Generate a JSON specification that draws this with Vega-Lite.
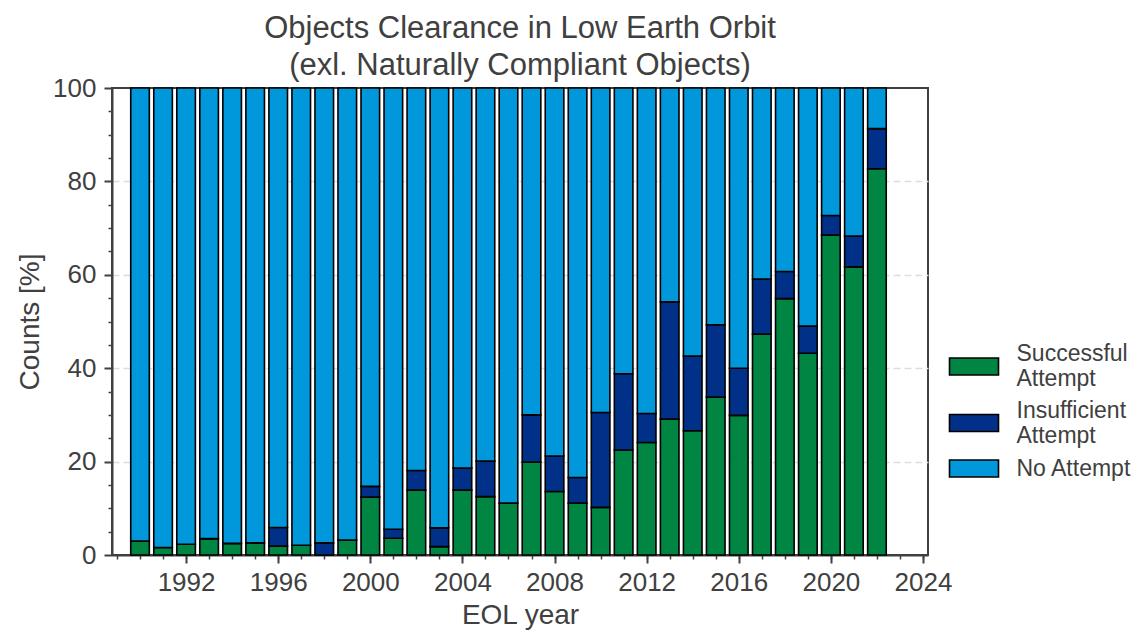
{
  "$schema": "https://vega.github.io/schema/vega-lite/v6.json",
  "width": 816,
  "height": 467,
  "autosize": {"type": "none"},
  "padding": {"left": 112, "top": 88, "right": 214, "bottom": 77},
  "background": "white",
  "config": {
    "font": "Liberation Sans",
    "view": {"stroke": "#404040", "strokeWidth": 2}
  },
  "title": {
    "text": ["Objects Clearance in Low Earth Orbit", "(exl. Naturally Compliant Objects)"],
    "fontSize": 31,
    "fontWeight": "normal",
    "color": "#404040",
    "font": "Liberation Sans",
    "anchor": "middle",
    "frame": "group",
    "lineHeight": 37,
    "offset": -7
  },
  "data": {
    "values": [
      {"year": 1990, "Successful Attempt": 3.0, "Insufficient Attempt": 0, "No Attempt": 97.0},
      {"year": 1991, "Successful Attempt": 1.6, "Insufficient Attempt": 0, "No Attempt": 98.4},
      {"year": 1992, "Successful Attempt": 2.3, "Insufficient Attempt": 0, "No Attempt": 97.7},
      {"year": 1993, "Successful Attempt": 3.5, "Insufficient Attempt": 0, "No Attempt": 96.5},
      {"year": 1994, "Successful Attempt": 2.5, "Insufficient Attempt": 0, "No Attempt": 97.5},
      {"year": 1995, "Successful Attempt": 2.6, "Insufficient Attempt": 0, "No Attempt": 97.4},
      {"year": 1996, "Successful Attempt": 1.9, "Insufficient Attempt": 4.0, "No Attempt": 94.1},
      {"year": 1997, "Successful Attempt": 2.1, "Insufficient Attempt": 0, "No Attempt": 97.9},
      {"year": 1998, "Successful Attempt": 0, "Insufficient Attempt": 2.6, "No Attempt": 97.4},
      {"year": 1999, "Successful Attempt": 3.2, "Insufficient Attempt": 0, "No Attempt": 96.8},
      {"year": 2000, "Successful Attempt": 12.4, "Insufficient Attempt": 2.3, "No Attempt": 85.3},
      {"year": 2001, "Successful Attempt": 3.6, "Insufficient Attempt": 1.9, "No Attempt": 94.5},
      {"year": 2002, "Successful Attempt": 13.9, "Insufficient Attempt": 4.2, "No Attempt": 81.9},
      {"year": 2003, "Successful Attempt": 1.8, "Insufficient Attempt": 4.0, "No Attempt": 94.2},
      {"year": 2004, "Successful Attempt": 13.9, "Insufficient Attempt": 4.7, "No Attempt": 81.4},
      {"year": 2005, "Successful Attempt": 12.5, "Insufficient Attempt": 7.6, "No Attempt": 79.9},
      {"year": 2006, "Successful Attempt": 11.1, "Insufficient Attempt": 0, "No Attempt": 88.9},
      {"year": 2007, "Successful Attempt": 19.9, "Insufficient Attempt": 10.1, "No Attempt": 70.0},
      {"year": 2008, "Successful Attempt": 13.6, "Insufficient Attempt": 7.6, "No Attempt": 78.8},
      {"year": 2009, "Successful Attempt": 11.1, "Insufficient Attempt": 5.5, "No Attempt": 83.4},
      {"year": 2010, "Successful Attempt": 10.2, "Insufficient Attempt": 20.3, "No Attempt": 69.5},
      {"year": 2011, "Successful Attempt": 22.5, "Insufficient Attempt": 16.3, "No Attempt": 61.2},
      {"year": 2012, "Successful Attempt": 24.1, "Insufficient Attempt": 6.2, "No Attempt": 69.7},
      {"year": 2013, "Successful Attempt": 29.1, "Insufficient Attempt": 25.1, "No Attempt": 45.8},
      {"year": 2014, "Successful Attempt": 26.6, "Insufficient Attempt": 16.0, "No Attempt": 57.4},
      {"year": 2015, "Successful Attempt": 33.8, "Insufficient Attempt": 15.5, "No Attempt": 50.7},
      {"year": 2016, "Successful Attempt": 29.9, "Insufficient Attempt": 10.1, "No Attempt": 60.0},
      {"year": 2017, "Successful Attempt": 47.3, "Insufficient Attempt": 11.8, "No Attempt": 40.9},
      {"year": 2018, "Successful Attempt": 54.9, "Insufficient Attempt": 5.8, "No Attempt": 39.3},
      {"year": 2019, "Successful Attempt": 43.2, "Insufficient Attempt": 5.8, "No Attempt": 51.0},
      {"year": 2020, "Successful Attempt": 68.5, "Insufficient Attempt": 4.2, "No Attempt": 27.3},
      {"year": 2021, "Successful Attempt": 61.7, "Insufficient Attempt": 6.6, "No Attempt": 31.7},
      {"year": 2022, "Successful Attempt": 82.7, "Insufficient Attempt": 8.6, "No Attempt": 8.7}
    ]
  },
  "transform": [
    {"fold": ["Successful Attempt", "Insufficient Attempt", "No Attempt"], "as": ["status", "value"]},
    {"calculate": "indexof(['Successful Attempt','Insufficient Attempt','No Attempt'], datum.status)", "as": "k"}
  ],
  "layer": [
    {
      "mark": {"type": "bar", "width": 18.6, "stroke": "black", "strokeWidth": 1.6},
      "encoding": {
        "x": {
          "field": "year", "type": "quantitative",
          "scale": {"domain": [1989, 2024], "nice": false, "zero": false},
          "axis": {
            "orient": "bottom",
            "values": [1992, 1996, 2000, 2004, 2008, 2012, 2016, 2020, 2024],
            "format": "d",
            "title": "EOL year",
            "grid": false,
            "domainColor": "#404040", "domainWidth": 2,
            "tickColor": "#404040", "tickWidth": 2, "tickSize": 8,
            "labelFontSize": 26, "labelColor": "#404040", "labelPadding": 6, "labelFlush": false,
            "titleFontSize": 28, "titleFontWeight": "normal", "titleColor": "#404040", "titlePadding": 6
          }
        },
        "y": {
          "field": "value", "type": "quantitative", "stack": "zero",
          "scale": {"domain": [0, 100], "nice": false},
          "axis": {
            "orient": "left",
            "values": [0, 20, 40, 60, 80, 100],
            "title": "Counts [%]",
            "grid": true, "gridColor": "#dddddd", "gridDash": [7, 4], "gridWidth": 1.5,
            "gridOpacity": {"condition": {"test": "datum.value === 100 || datum.value === 0", "value": 0}, "value": 1},
            "domainColor": "#404040", "domainWidth": 2,
            "tickColor": "#404040", "tickWidth": 2, "tickSize": 8,
            "labelFontSize": 26, "labelColor": "#404040", "labelPadding": 8,
            "titleFontSize": 28, "titleFontWeight": "normal", "titleColor": "#404040", "titlePadding": 8
          }
        },
        "color": {
          "field": "status", "type": "nominal",
          "sort": ["Successful Attempt", "Insufficient Attempt", "No Attempt"],
          "scale": {"domain": ["Successful Attempt", "Insufficient Attempt", "No Attempt"], "range": ["#008542", "#003087", "#0098DB"]},
          "legend": {
            "title": null,
            "orient": "none",
            "legendX": 850.5,
            "legendY": 267,
            "padding": 0,
            "symbolType": "M-2.882,-1H2.882V1H-2.882Z",
            "symbolSize": 289,
            "symbolStrokeColor": "black",
            "symbolStrokeWidth": 1.6,
            "symbolOpacity": 1,
            "labelFontSize": 23,
            "labelColor": "#404040",
            "labelOffset": 31,
            "rowPadding": 8.5,
            "labelLimit": 300,
            "labelExpr": "datum.label == 'No Attempt' ? datum.label : split(datum.label, ' ')",
            "encode": {
              "labels": {"update": {"dy": {"signal": "datum.value == 'No Attempt' ? 0 : -12.5"}}}
            }
          }
        },
        "order": {"field": "k", "type": "quantitative"}
      }
    },
    {
      "mark": {"type": "point", "opacity": 0},
      "encoding": {
        "x": {
          "field": "year", "type": "quantitative",
          "axis": {
            "orient": "bottom",
            "values": [1989, 1990, 1991, 1992, 1993, 1994, 1995, 1996, 1997, 1998, 1999, 2000, 2001, 2002, 2003, 2004, 2005, 2006, 2007, 2008, 2009, 2010, 2011, 2012, 2013, 2014, 2015, 2016, 2017, 2018, 2019, 2020, 2021, 2022, 2023, 2024],
            "labels": false, "domain": false, "grid": false, "title": null,
            "tickColor": "#404040", "tickWidth": 1.5, "tickSize": 4
          }
        },
        "y": {
          "field": "value", "type": "quantitative", "stack": null,
          "axis": {
            "orient": "left",
            "values": [5, 10, 15, 25, 30, 35, 45, 50, 55, 65, 70, 75, 85, 90, 95],
            "labels": false, "domain": false, "grid": false, "title": null,
            "tickColor": "#404040", "tickWidth": 1.5, "tickSize": 4
          }
        }
      }
    }
  ],
  "resolve": {"axis": {"x": "independent", "y": "independent"}}
}
